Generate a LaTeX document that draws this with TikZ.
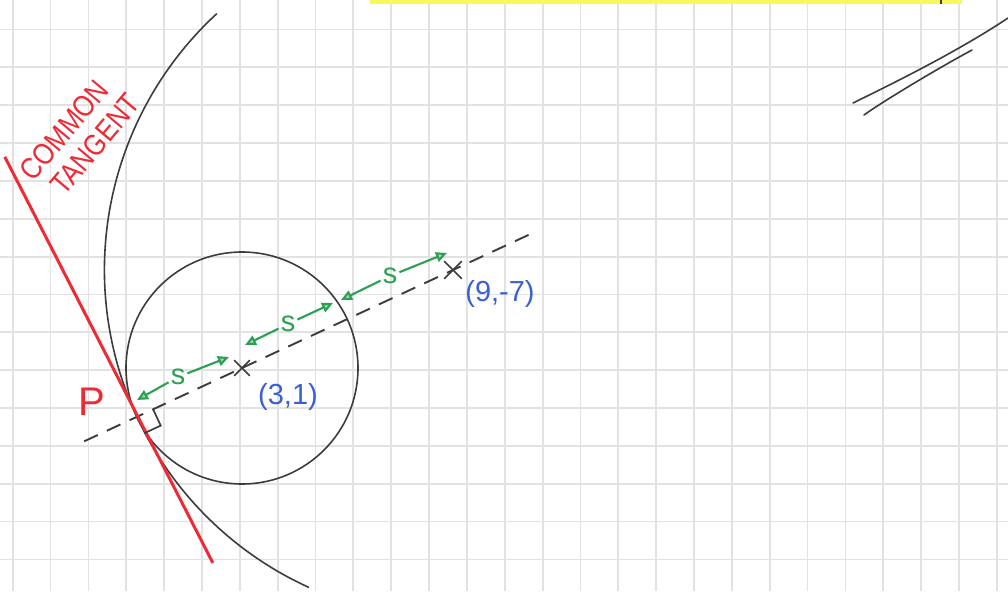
\documentclass[tikz,border=0pt]{standalone}
\usepackage{fontspec}
\setmainfont{Liberation Sans}
\usetikzlibrary{calc,arrows.meta,shapes.misc}
\definecolor{gridc}{HTML}{E2E2E2}
\definecolor{pencilc}{HTML}{3C3C3C}
\definecolor{penred}{HTML}{EE2A35}
\definecolor{pengreen}{HTML}{2CA052}
\definecolor{penblue}{HTML}{3A5FD8}
\definecolor{hlyellow}{HTML}{F8F85A}
\tikzset{
  gridline/.style={draw=gridc, line width=1.8pt},
  pencil/.style={draw=pencilc, line width=1.6pt, line cap=round},
  dashline/.style={draw=pencilc, line width=1.9pt, dash pattern=on 15pt off 10pt},
  redline/.style={draw=penred, line width=3pt},
  garrow/.style={draw=pengreen, line width=2.1pt, -{Triangle[length=11pt,width=10pt,fill=pengreen!45]}},
  slabel/.style={text=pengreen, font=\fontsize{29}{29}\selectfont, inner sep=2pt},
  coordlabel/.style={text=penblue, font=\fontsize{29}{30}\selectfont, inner sep=0pt},
  redlabel/.style={text=penred, inner sep=0pt},
  crossmark/.style={draw=pencilc, cross out, line width=1.7pt, minimum size=14pt, inner sep=0pt},
}
\begin{document}
\begin{tikzpicture}[x=1pt,y=-1pt]
\useasboundingbox (0,0) rectangle (1008,591);
\fill[white] (0,0) rectangle (1008,591);
% grid paper
\foreach \i in {0,...,26} \draw[gridline] ({12.7+37.85*\i},0) -- ({12.7+37.85*\i},591);
\foreach \j in {0,...,14} \draw[gridline] (0,{29.5+37.85*\j}) -- (1008,{29.5+37.85*\j});
% highlighter strip at the top
\fill[hlyellow] (370,0) rectangle (962,4.5);
\draw[pencilc, line width=1.4pt] (941,0) -- (941,4.5);
% stray strokes top right
\draw[pencil] (853,103) .. controls (900,80) and (960,50) .. (1008,18);
\draw[pencil] (864,115) .. controls (882,102) and (935,70) .. (972,50);
% centres and point of contact
\coordinate (A) at (242,368);
\coordinate (B) at (453,270);
\coordinate (P) at ($(A)!-116pt!(B)$);
% circles
\draw[pencil] (A) circle[radius=116];
\draw[pencil] (B) ++(227.3:348.6) arc[start angle=227.3, end angle=114.5, radius=348.6];
% line of centres
\coordinate (D1) at ($(A)!-0.748!(B)$);
\coordinate (D2) at ($(B)!-0.364!(A)$);
\draw[dashline] (D1) -- (D2);
% common tangent
\coordinate (T1) at ($(P)+(-132,-260)$);
\coordinate (T2) at ($(P)+(76,146)$);
\draw[redline] (T1) -- (T2);
% right angle mark
\coordinate (R1) at ($(P)!18pt!(B)$);
\coordinate (R2) at ($(P)!18pt!-90:(B)$);
\draw[pencilc, line width=1.7pt] (R1) -- ($(R1)+(R2)-(P)$) -- (R2);
% centre crosses
\node[crossmark] (xA) at (A) {};
\node[crossmark, minimum size=16pt] (xB) at (B) {};
% green distance arrows
\coordinate (a1) at (137,400);
\coordinate (b1) at (229,357);
\node[slabel] (s1) at (178,377) {s};
\coordinate (a2) at (245,345);
\coordinate (b2) at (333,303);
\node[slabel] (s2) at (288,324) {s};
\coordinate (a3) at (341,300);
\coordinate (b3) at (447,253);
\node[slabel] (s3) at (390,276) {s};
\draw[garrow] (s1) -- (a1);
\draw[garrow] (s1) -- (b1);
\draw[garrow] (s2) -- (a2);
\draw[garrow] (s2) -- (b2);
\draw[garrow] (s3) -- (a3);
\draw[garrow] (s3) -- (b3);
% labels
\node[coordlabel] (lA) at (288,397) {(3,1)};
\node[coordlabel] (lB) at (500,294) {(9,-7)};
\node[redlabel, font=\fontsize{40}{40}\selectfont] (lP) at (92,402) {P};
\node[redlabel, rotate=50, align=left, font=\fontsize{30}{33}\selectfont] (lT) at (80,137)
  {\scalebox{0.85}[1]{COMMON}\\\hspace*{9pt}\scalebox{0.85}[1]{TANGENT}};
\end{tikzpicture}
\end{document}
